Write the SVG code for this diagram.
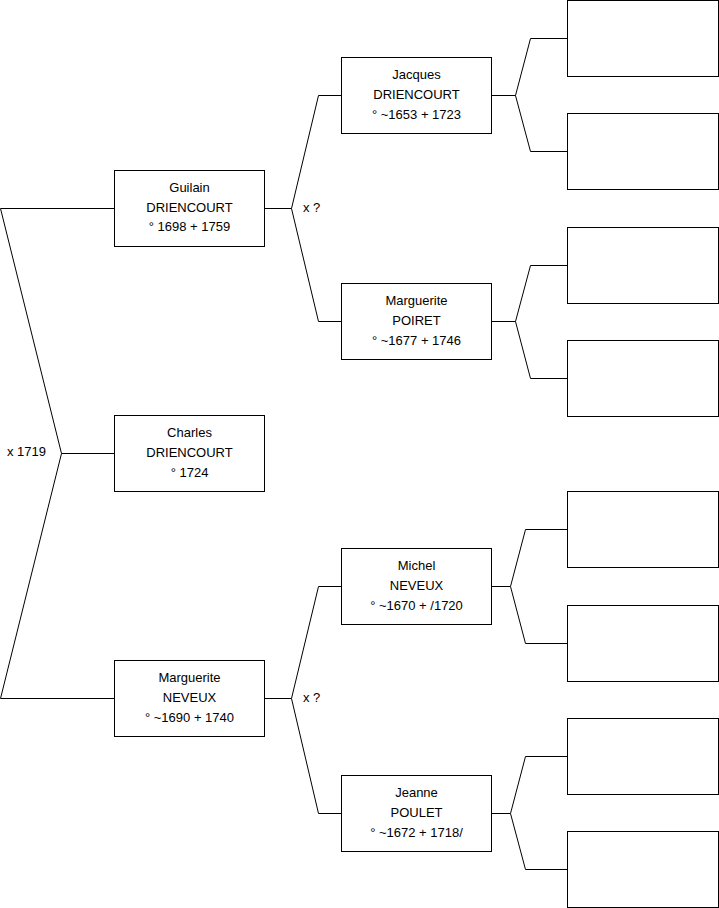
<svg xmlns="http://www.w3.org/2000/svg" width="719" height="908" viewBox="0 0 719 908">
<style>
.box{fill:#fff;stroke:#000;stroke-width:1}
.ln{fill:none;stroke:#000;stroke-width:1}
text{font-family:"Liberation Sans",Arial,sans-serif;font-size:13px;fill:#000}
.c{text-anchor:middle}
</style>
<rect width="719" height="908" fill="#fff"/>
<g id="connectors">
<polyline class="ln" points="114,208.5 0.5,208.5 61.5,453.5 0.5,698.5 114,698.5"/>
<line class="ln" x1="61.5" y1="453.5" x2="114" y2="453.5"/>
<polyline class="ln" points="265,208.5 291.5,208.5 318.5,95.5 341,95.5"/>
<polyline class="ln" points="291.5,208.5 318.5,321.5 341,321.5"/>
<polyline class="ln" points="265,698.5 291.5,698.5 318.5,586.5 341,586.5"/>
<polyline class="ln" points="291.5,698.5 318.5,813.5 341,813.5"/>
<polyline class="ln" points="492,95.5 515.5,95.5 530.5,38.5 567,38.5"/>
<polyline class="ln" points="515.5,95.5 530.5,151.5 567,151.5"/>
<polyline class="ln" points="492,321.5 515.5,321.5 530.5,265.5 567,265.5"/>
<polyline class="ln" points="515.5,321.5 530.5,378.5 567,378.5"/>
<polyline class="ln" points="492,586.5 510.5,586.5 525.5,529.5 567,529.5"/>
<polyline class="ln" points="510.5,586.5 525.5,643.5 567,643.5"/>
<polyline class="ln" points="492,813.5 510.5,813.5 525.5,756.5 567,756.5"/>
<polyline class="ln" points="510.5,813.5 525.5,869.5 567,869.5"/>
</g>
<g id="labels">
<text x="303" y="212">x ?</text>
<text x="303" y="702">x ?</text>
<text x="7" y="456">x 1719</text>
</g>
<g id="guilain"><rect class="box" x="114.5" y="170.5" width="150" height="76"/>
<text class="c" x="189.5" y="191.5">Guilain</text><text class="c" x="189.5" y="211.5">DRIENCOURT</text><text class="c" x="189.5" y="231">° 1698 + 1759</text></g>
<g id="charles"><rect class="box" x="114.5" y="415.5" width="150" height="76"/>
<text class="c" x="189.5" y="437">Charles</text><text class="c" x="189.5" y="457">DRIENCOURT</text><text class="c" x="189.5" y="476.5">° 1724</text></g>
<g id="marguerite-neveux"><rect class="box" x="114.5" y="660.5" width="150" height="76"/>
<text class="c" x="189.5" y="682">Marguerite</text><text class="c" x="189.5" y="702">NEVEUX</text><text class="c" x="189.5" y="721.5">° ~1690 + 1740</text></g>
<g id="jacques"><rect class="box" x="341.5" y="57.5" width="150" height="76"/>
<text class="c" x="416.5" y="79">Jacques</text><text class="c" x="416.5" y="99">DRIENCOURT</text><text class="c" x="416.5" y="118.5">° ~1653 + 1723</text></g>
<g id="marguerite-poiret"><rect class="box" x="341.5" y="283.5" width="150" height="76"/>
<text class="c" x="416.5" y="305">Marguerite</text><text class="c" x="416.5" y="325">POIRET</text><text class="c" x="416.5" y="344.5">° ~1677 + 1746</text></g>
<g id="michel"><rect class="box" x="341.5" y="548.5" width="150" height="76"/>
<text class="c" x="416.5" y="570">Michel</text><text class="c" x="416.5" y="590">NEVEUX</text><text class="c" x="416.5" y="609.5">° ~1670 + /1720</text></g>
<g id="jeanne"><rect class="box" x="341.5" y="775.5" width="150" height="76"/>
<text class="c" x="416.5" y="797">Jeanne</text><text class="c" x="416.5" y="817">POULET</text><text class="c" x="416.5" y="836.5">° ~1672 + 1718/</text></g>
<g id="p1"><rect class="box" x="567.5" y="0.5" width="151" height="76"/></g>
<g id="p2"><rect class="box" x="567.5" y="113.5" width="151" height="76"/></g>
<g id="p3"><rect class="box" x="567.5" y="227.5" width="151" height="76"/></g>
<g id="p4"><rect class="box" x="567.5" y="340.5" width="151" height="76"/></g>
<g id="p5"><rect class="box" x="567.5" y="491.5" width="151" height="76"/></g>
<g id="p6"><rect class="box" x="567.5" y="605.5" width="151" height="76"/></g>
<g id="p7"><rect class="box" x="567.5" y="718.5" width="151" height="76"/></g>
<g id="p8"><rect class="box" x="567.5" y="831.5" width="151" height="76"/></g>
</svg>
